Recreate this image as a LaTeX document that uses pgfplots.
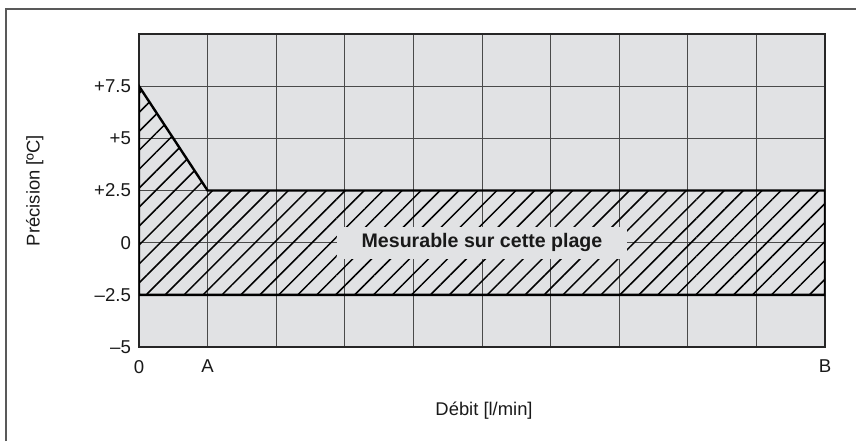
\documentclass[border=0pt]{standalone}
\usepackage{fontspec}
\setmainfont{Liberation Sans}
\usepackage{pgfplots}
\pgfplotsset{compat=1.18}
\usetikzlibrary{patterns.meta}
\definecolor{bg}{HTML}{E1E2E4}
\definecolor{gridc}{HTML}{4A4A4A}
\begin{document}
\begin{tikzpicture}
\useasboundingbox (0pt,0pt) rectangle (428pt,220.5pt);
\draw[line width=0.8pt, black!65] (3pt,0pt) -- (3pt,216pt) -- (428pt,216pt);
\begin{axis}[at={(69.5pt,47pt)}, anchor=south west, scale only axis,
  width=343pt, height=156.5pt,
  xmin=0, xmax=10, ymin=-5, ymax=10,
  xtick={0,1,2,3,4,5,6,7,8,9,10},
  xticklabels={0,A,,,,,,,,,B},
  ytick={-5,-2.5,0,2.5,5,7.5,10},
  yticklabels={\textendash5,\textendash2.5,0,+2.5,+5,+7.5,{}},
  grid=major, major grid style={gridc, line width=0.5pt},
  major tick length=0pt,
  axis background/.style={fill=bg},
  axis line style={black!85, line width=0.6pt},
  tick label style={font=\fontsize{9.3}{11}\selectfont, text=black!90},
  xticklabel style={yshift=-3pt},
  yticklabel style={xshift=-0.5pt},
  xlabel={Débit [l/min]},
  ylabel={Précision [ºC]},
  label style={font=\fontsize{9.2}{11}\selectfont, text=black!90},
  xlabel style={at={(rel axis cs:0.503,-0.202)}, anchor=center},
  ylabel style={at={(rel axis cs:-0.152,0.5)}, anchor=center},
]
\addplot[draw=black, line width=1.2pt, pattern={Lines[angle=45,distance=6.7pt,line width=0.75pt]}, pattern color=black]
  coordinates {(0,7.5) (1,2.5) (10,2.5) (10,-2.5) (0,-2.5)} -- cycle;
\node[fill=bg, minimum width=145pt, minimum height=16pt, inner sep=0pt,
  font=\bfseries\fontsize{9.8}{12}\selectfont, text=black!90] at (axis cs:5,0) {Mesurable sur cette plage};
\end{axis}
\end{tikzpicture}
\end{document}
